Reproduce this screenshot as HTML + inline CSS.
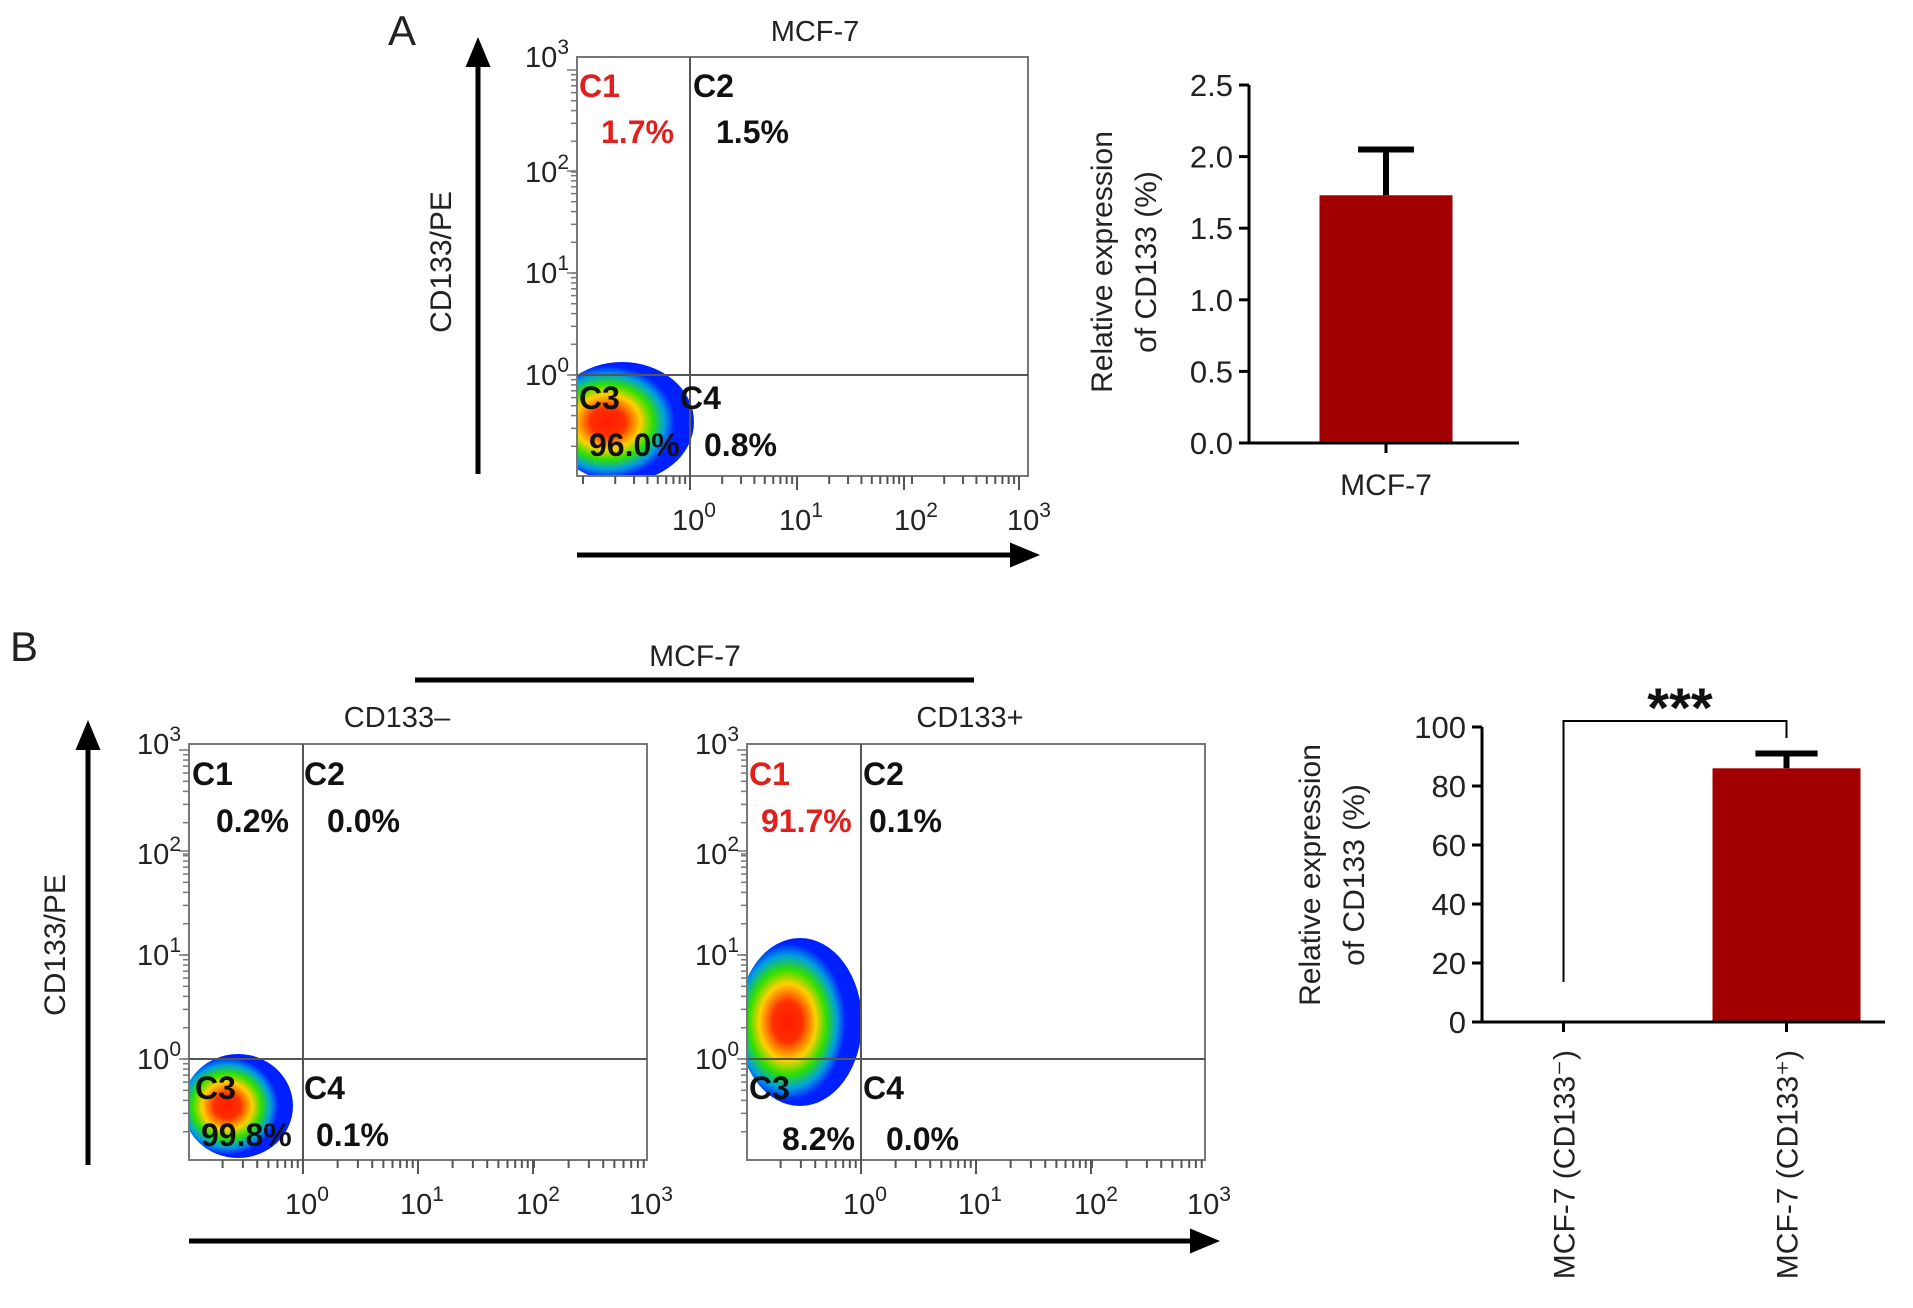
<!DOCTYPE html>
<html><head><meta charset="utf-8"><style>
html,body{margin:0;padding:0;background:#fff;}
svg{display:block;font-family:"Liberation Sans",Arial,sans-serif;}
.tk{font-size:29px;fill:#222;}
.q{font-size:32px;font-weight:bold;fill:#111;}
.r{fill:#e0201c;}
</style></head><body>
<svg id="fig" width="1913" height="1308" viewBox="0 0 1913 1308">
<defs>
<radialGradient id="cloud" cx="0.4" cy="0.5" r="0.6">
<stop offset="0" stop-color="#ff1a00"/><stop offset="0.2" stop-color="#ff3000"/>
<stop offset="0.38" stop-color="#ffd000"/><stop offset="0.52" stop-color="#30e000"/>
<stop offset="0.66" stop-color="#00a0e0"/><stop offset="0.78" stop-color="#0020ff"/><stop offset="1" stop-color="#0020ff"/>
</radialGradient>
<marker id="ah" markerWidth="6" markerHeight="6" refX="3" refY="3" orient="auto" markerUnits="strokeWidth"><path d="M0,0.5 L6,3 L0,5.5 z" fill="#000"/></marker>
</defs>
<g id="root"></g>
</svg>
<script>
// ---- bar chart data ----
const barACategories = ["MCF-7"];
const barAValues = [1.73];
const barAErrors = [0.32];
const barATicks = ["0.0","0.5","1.0","1.5","2.0","2.5"];
const barBCategories = ["MCF-7 (CD133\u207B)","MCF-7 (CD133\u207A)"];
const barBValues = [0.2, 86];
const barBErrors = [0, 5];
const barBTicks = ["0","20","40","60","80","100"];
// ---- flow quadrant data ----
const flowAPercents = ["1.7%","1.5%","96.0%","0.8%"];
const flowBnegPercents = ["0.2%","0.0%","99.8%","0.1%"];
const flowBposPercents = ["91.7%","0.1%","8.2%","0.0%"];
const decadeLabels = ["0","1","2","3"];

const NS="http://www.w3.org/2000/svg";
const root=document.getElementById('root');
const defs=document.querySelector('defs');
let clipId=0;
function el(tag,attrs,parent,text){const e=document.createElementNS(NS,tag);for(const k in attrs)e.setAttribute(k,attrs[k]);if(text!==undefined)e.textContent=text;(parent||root).appendChild(e);return e;}

function txt(x,y,s,cls,name,anchor,extra){
  const t=el('text',Object.assign({x:x,y:y,class:cls||'tk','text-anchor':anchor||'middle'},extra||{}),root,s);
  
  
  return t;
}
function pow10(x,y,exp,name,anchor){
  const t=el('text',{x:x,y:y,class:'tk','text-anchor':anchor||'middle'});
  
  
  el('tspan',{},t,'10');
  el('tspan',{dy:-13,style:'font-size:21px'},t,exp);
}

function flow(cfg){
  const g=el('g',{});
  
  
  const cid='clip'+(clipId++);
  const cp=el('clipPath',{id:cid},defs);
  el('rect',{x:cfg.x0+1,y:cfg.y0,width:cfg.x1-cfg.x0,height:cfg.y1-cfg.y0-1},cp);
  const c=el('ellipse',{cx:cfg.cloud[0],cy:cfg.cloud[1],rx:cfg.cloud[2],ry:cfg.cloud[3],fill:'url(#cloud)','clip-path':'url(#'+cid+')'},g);
  
  
  const b=el('rect',{x:cfg.x0,y:cfg.y0,width:cfg.x1-cfg.x0,height:cfg.y1-cfg.y0,fill:'none',stroke:'#777','stroke-width':2},g);
  
  
  const v=el('line',{x1:cfg.xd[0],x2:cfg.xd[0],y1:cfg.y0,y2:cfg.y1,stroke:'#555','stroke-width':2},g);
  
  
  const h=el('line',{x1:cfg.x0,x2:cfg.x1,y1:cfg.yd[0],y2:cfg.yd[0],stroke:'#555','stroke-width':2},g);
  
  
  const xs=cfg.xd, dx=xs[1]-xs[0];
  for(let d=-1;d<3;d++){for(let m=1;m<=10;m++){
    const base=d<0?xs[0]-dx:xs[d];const px=base+Math.log10(m)*dx;
    if(px<cfg.x0+3||px>cfg.x1+1)continue;
    el('line',{x1:px,x2:px,y1:cfg.y1,y2:cfg.y1+(m===10?14:8),stroke:'#555','stroke-width':2},g);}}
  const ys=cfg.yd, dy=ys[0]-ys[1];
  for(let d=-1;d<3;d++){for(let m=1;m<=10;m++){
    const base=d<0?ys[0]+dy:ys[d];const py=base-Math.log10(m)*dy;
    if(py>cfg.y1-3||py<cfg.y0-1)continue;
    el('line',{x1:cfg.x0,x2:cfg.x0-(m===10?10:6),y1:py,y2:py,stroke:'#777','stroke-width':1.5},g);}}
  decadeLabels.forEach((l,i)=>{pow10(xs[i]+4,cfg.y1+54,l,'x-tick-label');pow10(cfg.x0-8,ys[i]+10,l,'y-tick-label','end');});
  const L=cfg.lab, P=cfg.pct;
  const names=['C1','C2','C3','C4'];
  L.forEach((p,i)=>{
    txt(p[0],p[1],names[i],'q'+(cfg.red===i?' r':''),'quadrant-label-'+names[i].toLowerCase(),'start');
    txt(p[2],p[3],P[i],'q'+(cfg.red===i?' r':''),'quadrant-percent-'+names[i].toLowerCase(),'start');
  });
}

// Panel A
txt(402,45,'A','tk','panel-label-a','middle',{style:'font-size:42px'});
txt(815,41,'MCF-7','tk','flow-a-title');
flow({name:'flow-plot-a',x0:577,x1:1028,y0:57,y1:476,xd:[690,797,912,1025],yd:[375,273,172,57],
  cloud:[622,422,72,60],red:0,pct:flowAPercents,
  lab:[[579,97,601,143],[693,97,716,143],[579,409,589,456],[680,409,704,456]]});
let a=el('line',{x1:478,y1:474,x2:478,y2:52,stroke:'#000','stroke-width':5,'marker-end':'url(#ah)'});

a=el('line',{x1:577,y1:555,x2:1025,y2:555,stroke:'#000','stroke-width':5,'marker-end':'url(#ah)'});

txt(0,0,'CD133/PE','tk','y-axis-title','middle',{transform:'translate(451,262) rotate(-90)',style:'font-size:30px'});

function barChart(c){
  const g=el('g',{});
  
  const y=v=>c.yb-(v-c.min)/(c.max-c.min)*(c.yb-c.yt);
  const n=c.cats.length;
  const xc=i=>c.xl+(i+0.5)*(c.xr-c.xl)/n;
  c.vals.forEach((v,i)=>{
    const r=el('rect',{x:xc(i)-c.bw/2,y:y(v),width:c.bw,height:Math.max(1,c.yb-y(v)),fill:'#a20000'},g);
    
    if(c.errs[i]>0){
      const e=el('path',{d:`M${xc(i)},${y(v)} V${y(v+c.errs[i])} M${xc(i)-c.bw*0.21},${y(v+c.errs[i])} H${xc(i)+c.bw*0.21}`,stroke:'#000','stroke-width':6,fill:'none'},g);
      
    }
    el('line',{x1:xc(i),x2:xc(i),y1:c.yb,y2:c.yb+10,stroke:'#000','stroke-width':3},g);
    if(c.rot){txt(0,0,c.cats[i],'tk','x-category-label','end',{transform:`translate(${xc(i)+11},${c.yb+28}) rotate(-90)`,style:'font-size:30px'});}
    else txt(xc(i),c.yb+52,c.cats[i],'tk','x-category-label','middle',{style:'font-size:30px'});
  });
  const ax=el('path',{d:`M${c.xa},${c.yt} V${c.yb} M${c.xa-10},${c.yb} H${c.xend}`,stroke:'#000','stroke-width':3,fill:'none'},g);
  
  c.ticks.forEach((t,i)=>{const v=c.min+i*(c.max-c.min)/(c.ticks.length-1);
    el('line',{x1:c.xa-10,x2:c.xa,y1:y(v),y2:y(v),stroke:'#000','stroke-width':3},g);
    txt(c.xa-16,y(v)+11,t,'tk','y-tick-label','end',{style:'font-size:31px'});});
  txt(0,0,'Relative expression','tk','y-axis-title','middle',{transform:`translate(${c.tx},${c.tyc}) rotate(-90)`,style:'font-size:30px'});
  txt(0,0,'of CD133 (%)','tk','y-axis-title-2','middle',{transform:`translate(${c.tx+44},${c.tyc}) rotate(-90)`,style:'font-size:30px'});
  return {y,xc};
}
barChart({name:'bar-chart-a',cats:barACategories,vals:barAValues,errs:barAErrors,ticks:barATicks,min:0,max:2.5,
  xa:1249,xl:1292,xr:1480,xend:1519,yt:85,yb:443,bw:133,tx:1112,tyc:262});

// Panel B
txt(24,661,'B','tk','panel-label-b','middle',{style:'font-size:42px'});
txt(695,666,'MCF-7','tk','flow-b-title','middle',{style:'font-size:30px'});
a=el('line',{x1:415,x2:974,y1:680,y2:680,stroke:'#000','stroke-width':5});

txt(397,727,'CD133\u2013','tk','flow-b-neg-title');
txt(970,727,'CD133+','tk','flow-b-pos-title');
flow({name:'flow-plot-b-neg',x0:189,x1:647,y0:744,y1:1160,xd:[303,418,534,647],yd:[1059,955,854,744],
  cloud:[238,1106,55,52],red:-1,pct:flowBnegPercents,
  lab:[[192,785,216,832],[304,785,327,832],[195,1099,201,1146],[304,1099,316,1146]]});
flow({name:'flow-plot-b-pos',x0:747,x1:1205,y0:744,y1:1160,xd:[861,976,1092,1205],yd:[1059,955,854,744],
  cloud:[800,1022,62,84],red:0,pct:flowBposPercents,
  lab:[[749,785,761,832],[863,785,869,832],[749,1099,782,1150],[863,1099,886,1150]]});
a=el('line',{x1:88,y1:1165,x2:88,y2:735,stroke:'#000','stroke-width':5,'marker-end':'url(#ah)'});

a=el('line',{x1:189,y1:1241,x2:1205,y2:1241,stroke:'#000','stroke-width':5,'marker-end':'url(#ah)'});

txt(0,0,'CD133/PE','tk','y-axis-title-b','middle',{transform:'translate(65,945) rotate(-90)',style:'font-size:30px'});

const bb=barChart({name:'bar-chart-b',cats:barBCategories,vals:barBValues,errs:barBErrors,ticks:barBTicks,min:0,max:100,
  xa:1482,xl:1452,xr:1898,xend:1885,yt:727,yb:1022,bw:148,tx:1320,tyc:875,rot:true});
const x1=bb.xc(0),x2=bb.xc(1);
a=el('path',{d:`M${x1},982 V721 H${x2} V738`,stroke:'#000','stroke-width':2,fill:'none'});

txt((x1+x2)/2+5,727,'***','tk','significance-stars','middle',{style:'font-size:56px;font-weight:bold;fill:#111'});
</script>
</body></html>
